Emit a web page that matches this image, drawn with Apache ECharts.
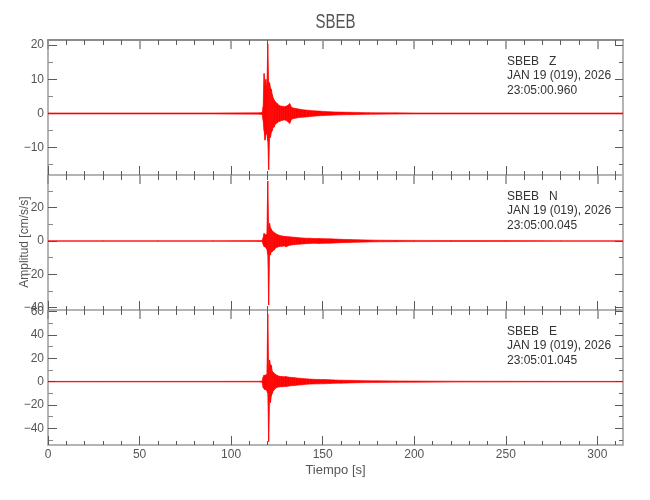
<!DOCTYPE html>
<html><head><meta charset="utf-8">
<script src="https://cdn.jsdelivr.net/npm/echarts@6/dist/echarts.min.js"></script>
<style>html,body{margin:0;padding:0;background:#fff}#c{width:650px;height:500px}</style>
</head><body><div id="c"></div>
<script>
// ---------- texts ----------
const chartTitle = 'SBEB';
const xName = 'Tiempo [s]';
const yName = 'Amplitud [cm/s/s]';
const panelNames = ['SBEB   Z', 'SBEB   N', 'SBEB   E'];
const panelDate = 'JAN 19 (019), 2026';
const panelTimes = ['23:05:00.960', '23:05:00.045', '23:05:01.045'];

// ---------- x axis ----------
const xRange = [0, 314];
const xMajorTicks = [0, 50, 100, 150, 200, 250, 300];
const xTickLabels = ['0', '50', '100', '150', '200', '250', '300'];
const xMinorTicks = [10,20,30,40,60,70,80,90,110,120,130,140,160,170,180,190,210,220,230,240,260,270,280,290,310];

// ---------- y axes ----------
const zRange = [-18, 21.5];
const zTicks = [-10, 0, 10, 20];
const zTickLabels = ['\u221210', '0', '10', '20'];
const zMinor = [-15, -5, 5, 15];

const nRange = [-41.4, 39.6];
const nTicks = [-40, -20, 0, 20];
const nTickLabels = ['\u221240', '\u221220', '0', '20'];
const nMinor = [-30, -10, 10, 30];

const eRange = [-54.3, 61.4];
const eTicks = [-40, -20, 0, 20, 40, 60];
const eTickLabels = ['\u221240', '\u221220', '0', '20', '40', '60'];
const eMinor = [-50, -30, -10, 10, 30, 50];

// ---------- waveform envelopes: time [s], upper and lower extremes ----------
const t = [0, 30, 60, 90, 115, 117,
  117.5, 118, 118.5, 119, 119.5, 120, 120.5, 121, 121.5, 122, 122.5, 123, 123.5, 124,
  125, 126, 127, 128, 129, 130, 131, 132, 133, 134, 135,
  137, 139, 141, 143, 145,
  148, 151, 154, 157, 160,
  165, 170, 175, 180,
  190, 200, 220, 250, 280, 314];

const zUp = [0.15, 0.15, 0.15, 0.15, 0.2, 0.3,
  2, 11.7, 8, 10, 7, 20.4, 9, 9, 7.5, 7, 5.5, 4.5, 4, 3.5,
  3, 2.5, 2.2, 2.1, 2, 2.1, 2.4, 2.9, 1.8, 1.6, 1.5,
  1.3, 1.1, 1.0, 0.9, 0.8,
  0.7, 0.6, 0.5, 0.45, 0.4,
  0.35, 0.3, 0.25, 0.2,
  0.18, 0.15, 0.15, 0.15, 0.15, 0.15];
const zLo = [-0.15, -0.15, -0.15, -0.15, -0.2, -0.3,
  -2, -5, -7.8, -6, -6, -8, -16.5, -7, -7, -5.5, -5, -4, -4, -3.2,
  -2.8, -2.4, -2.2, -2, -1.9, -2, -2.4, -2.9, -1.7, -1.5, -1.4,
  -1.2, -1.1, -1.0, -0.9, -0.8,
  -0.7, -0.6, -0.5, -0.45, -0.4,
  -0.35, -0.3, -0.25, -0.2,
  -0.18, -0.15, -0.15, -0.15, -0.15, -0.15];

const nUp = [0.2, 0.2, 0.2, 0.2, 0.25, 0.35,
  2, 4.6, 3.4, 4, 4, 36, 8, 10.6, 8, 7, 6, 5.6, 5, 4.8,
  4, 3.6, 3.2, 3, 2.8, 2.7, 2.6, 2.5, 2.4, 2.3, 2.2,
  2.0, 1.8, 1.7, 1.7, 1.5,
  1.5, 1.4, 1.3, 1.2, 1.0,
  0.85, 0.7, 0.6, 0.5,
  0.4, 0.35, 0.3, 0.25, 0.2, 0.2];
const nLo = [-0.2, -0.2, -0.2, -0.2, -0.25, -0.35,
  -2, -3.4, -3.4, -4, -5, -8, -38.4, -8.4, -8.4, -6.4, -6.4, -5.5, -5.5, -4.5,
  -3.8, -3.4, -3.2, -3.2, -3, -3.4, -3, -2.6, -2.4, -2.2, -2.1,
  -2.0, -1.8, -1.6, -1.5, -1.4,
  -1.5, -1.4, -1.3, -1.2, -1.0,
  -0.85, -0.7, -0.6, -0.5,
  -0.4, -0.35, -0.3, -0.25, -0.2, -0.2];

const eUp = [0.25, 0.25, 0.25, 0.25, 0.3, 0.5,
  4, 5.7, 5, 6, 6, 58, 12, 18.6, 14.3, 14, 9, 8, 7, 6.5,
  5.5, 4.8, 4.5, 4.3, 4.2, 4.3, 4, 3.8, 3.6, 3.5, 3.3,
  3.0, 2.6, 2.4, 2.2, 2.0,
  1.9, 1.8, 1.6, 1.4, 1.3,
  1.1, 0.9, 0.8, 0.7,
  0.6, 0.5, 0.4, 0.3, 0.25, 0.25];
const eLo = [-0.25, -0.25, -0.25, -0.25, -0.3, -0.5,
  -5, -6, -7.1, -6, -8, -10, -51.4, -15.7, -18, -12, -10, -8, -7.1, -6,
  -5, -4.6, -4.4, -4.3, -4.2, -4.1, -3.9, -3.7, -3.5, -3.4, -3.2,
  -2.9, -2.6, -2.3, -2.1, -2.0,
  -1.9, -1.8, -1.6, -1.4, -1.3,
  -1.1, -0.9, -0.8, -0.7,
  -0.6, -0.5, -0.4, -0.3, -0.25, -0.25];

// ---------- layout / style ----------
const FONT = '"Liberation Sans","DejaVu Sans",sans-serif';
const LABEL_COL = '#555';
const AXIS_COL = '#b4b4b4';
const TICK_COL = '#5a5a5a';
const RED = '#ff0000';
const gridLeft = 48, gridWidth = 575, panelTop = [40, 175, 310], panelH = 135;

const panels = [
  {up: zUp, lo: zLo, range: zRange, ticks: zTicks, labels: zTickLabels, minor: zMinor},
  {up: nUp, lo: nLo, range: nRange, ticks: nTicks, labels: nTickLabels, minor: nMinor},
  {up: eUp, lo: eLo, range: eRange, ticks: eTicks, labels: eTickLabels, minor: eMinor}
];

const grids = [], xAxes = [], yAxes = [], series = [], graphics = [];
const labelStyle = {color: LABEL_COL, fontFamily: FONT, fontSize: 12};

panels.forEach((p, i) => {
  grids.push({left: gridLeft, top: panelTop[i], width: gridWidth, height: panelH, containLabel: false});
  const xc = {type: 'value', gridIndex: i, min: xRange[0], max: xRange[1],
    splitLine: {show: false}, minorTick: {show: false}, minorSplitLine: {show: false}};
  const topCol = i === 0 ? '#8c8c8c' : AXIS_COL;
  xAxes.push(
    Object.assign({}, xc, {position: 'bottom',
      axisLine: {show: true, onZero: false, lineStyle: {color: AXIS_COL, width: 2}},
      axisTick: {show: true, inside: true, length: 9, customValues: xMajorTicks, lineStyle: {color: TICK_COL, width: 1}},
      axisLabel: Object.assign({show: i === 2, customValues: xMajorTicks, margin: 4,
        formatter: v => { const k = xMajorTicks.indexOf(v); return k >= 0 ? xTickLabels[k] : ''; }}, labelStyle)}),
    Object.assign({}, xc, {position: 'bottom',
      axisLine: {show: false, onZero: false},
      axisTick: {show: true, inside: true, length: 4, customValues: xMinorTicks, lineStyle: {color: TICK_COL, width: 1}},
      axisLabel: {show: false}}),
    Object.assign({}, xc, {position: 'top',
      axisLine: {show: true, onZero: false, lineStyle: {color: topCol, width: 2}},
      axisTick: {show: true, inside: true, length: 9, customValues: xMajorTicks, lineStyle: {color: '#8a8a8a', width: 1.5}},
      axisLabel: {show: false}}),
    Object.assign({}, xc, {position: 'top',
      axisLine: {show: false, onZero: false},
      axisTick: {show: true, inside: true, length: 5, customValues: xMinorTicks, lineStyle: {color: TICK_COL, width: 1}},
      axisLabel: {show: false}})
  );
  const yc = {type: 'value', gridIndex: i, min: p.range[0], max: p.range[1],
    splitLine: {show: false}, minorTick: {show: false}, minorSplitLine: {show: false}};
  yAxes.push(
    Object.assign({}, yc, {position: 'left',
      axisLine: {show: true, onZero: false, lineStyle: {color: AXIS_COL, width: 2}},
      axisTick: {show: true, inside: true, length: 9, customValues: p.ticks, lineStyle: {color: TICK_COL, width: 1}},
      axisLabel: Object.assign({show: true, customValues: p.ticks, margin: 4,
        formatter: v => { const k = p.ticks.indexOf(v); return k >= 0 ? p.labels[k] : ''; }}, labelStyle)}),
    Object.assign({}, yc, {position: 'left',
      axisLine: {show: false, onZero: false},
      axisTick: {show: true, inside: true, length: 5, customValues: p.minor, lineStyle: {color: '#8a8a8a', width: 1}},
      axisLabel: {show: false}}),
    Object.assign({}, yc, {position: 'right',
      axisLine: {show: true, onZero: false, lineStyle: {color: AXIS_COL, width: 2}},
      axisTick: {show: true, inside: true, length: 8, customValues: p.ticks, lineStyle: {color: TICK_COL, width: 1}},
      axisLabel: {show: false}}),
    Object.assign({}, yc, {position: 'right',
      axisLine: {show: false, onZero: false},
      axisTick: {show: true, inside: true, length: 4, customValues: p.minor, lineStyle: {color: TICK_COL, width: 1}},
      axisLabel: {show: false}})
  );
  // envelope band: one quadrilateral per time step, placed through the axes' scales
  series.push({
    type: 'custom', coordinateSystem: 'cartesian2d', xAxisIndex: 4 * i, yAxisIndex: 4 * i,
    silent: true, clip: true,
    data: t.map((x, k) => [x, p.lo[k], p.up[k]]),
    encode: {x: 0, y: [1, 2]},
    renderItem: (params, api) => {
      const k = params.dataIndex;
      if (k >= t.length - 1) return null;
      const a = api.coord([t[k], p.up[k]]), b = api.coord([t[k + 1], p.up[k + 1]]);
      const c = api.coord([t[k + 1], p.lo[k + 1]]), d = api.coord([t[k], p.lo[k]]);
      return {
        type: 'polygon',
        shape: {points: [a, b, c, d]},
        style: {fill: RED, stroke: RED, lineWidth: 0.6}
      };
    }
  });
  graphics.push({
    type: 'text', x: 507, y: panelTop[i] + 14, silent: true,
    style: {text: panelNames[i] + '\n' + panelDate + '\n' + panelTimes[i],
      fill: '#333', font: '12px ' + FONT, lineHeight: 14.6, align: 'left', verticalAlign: 'top'}
  });
});

graphics.push(
  {type: 'text', x: 335.5, y: 22, scaleX: 0.75, silent: true,
    style: {text: chartTitle, fill: LABEL_COL, font: '20px ' + FONT, align: 'center', verticalAlign: 'middle'}},
  {type: 'text', x: 335.5, y: 470, silent: true,
    style: {text: xName, fill: LABEL_COL, font: '13px ' + FONT, align: 'center', verticalAlign: 'middle'}},
  {type: 'text', x: 25, y: 242, rotation: Math.PI / 2, silent: true,
    style: {text: yName, fill: LABEL_COL, font: '12px ' + FONT, align: 'center', verticalAlign: 'middle'}}
);

const chart = echarts.init(document.getElementById('c'), null, {renderer: 'canvas'});
chart.setOption({
  animation: false,
  backgroundColor: '#ffffff',
  grid: grids,
  xAxis: xAxes,
  yAxis: yAxes,
  series: series,
  graphic: graphics
});
</script>
</body></html>
